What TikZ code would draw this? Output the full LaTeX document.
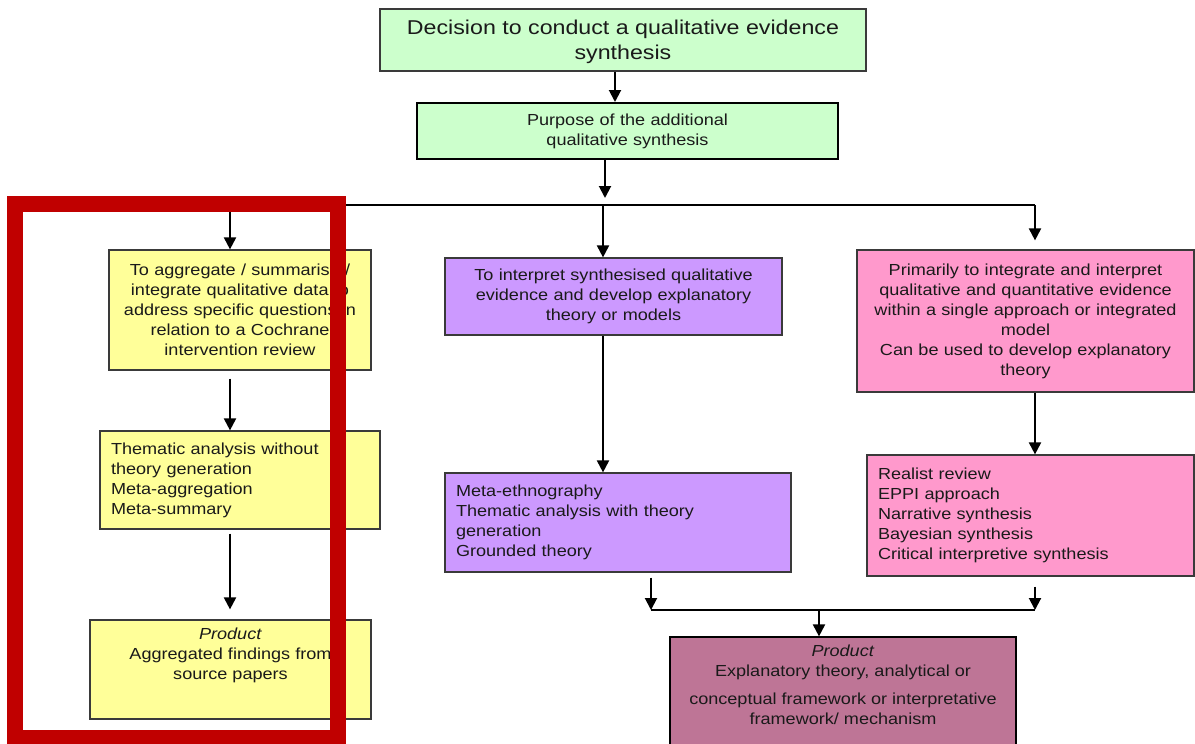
\documentclass[tikz,border=0pt]{standalone}
\usepackage{fontspec}
\setmainfont{Liberation Sans}[FakeStretch=1.13]
\newfontfamily\bigfont{Liberation Sans}[FakeStretch=1.16]
\usetikzlibrary{arrows.meta}
\definecolor{cgreen}{HTML}{CCFFCC}
\definecolor{cyellow}{HTML}{FFFF99}
\definecolor{cpurple}{HTML}{CC99FF}
\definecolor{cpink}{HTML}{FF99CC}
\definecolor{cmauve}{HTML}{BE7596}
\definecolor{cred}{HTML}{C00000}
\definecolor{cborder}{HTML}{3A3A3A}
\definecolor{ctext}{HTML}{1A1A1A}
\begin{document}
\begin{tikzpicture}[x=1pt,y=-1pt,
  box/.style={draw=cborder, line width=1.2pt, inner xsep=11pt, inner ysep=0pt,
    align=center, text=ctext, font=\fontsize{16}{20}\selectfont},
  lbox/.style={box, align=left},
  txt/.style={inner sep=0pt, align=center, text=ctext, font=\fontsize{16}{20}\selectfont},
  arr/.style={line width=2pt, -{Triangle[width=12pt,length=12pt]}},
  bus/.style={line width=2pt},
  redframe/.style={draw=cred, line width=16pt}
]
\useasboundingbox (0,0) rectangle (1195,744);
% boxes
\node[box, fill=cgreen, text width=464pt, minimum height=62pt] (dec) at (623,40) {};
\node[txt, font=\bigfont\fontsize{20}{25}\selectfont] (dect) at ([yshift=-1.5pt]dec.center)
  {Decision to conduct a qualitative evidence\\synthesis};
\node[box, fill=cgreen, draw=black, line width=2pt, text width=399pt, minimum height=56pt] (pur) at (627.5,131)
  {Purpose of the additional\\qualitative synthesis};
\node[box, fill=cyellow, text width=240pt, minimum height=120pt] (a1) at (240,310)
  {To aggregate / summarise /\\integrate qualitative data to\\address specific questions in\\relation to a Cochrane\\intervention review};
\node[lbox, fill=cyellow, text width=258pt, minimum height=98pt] (a2) at (240,480)
  {Thematic analysis without\\theory generation\\Meta-aggregation\\Meta-summary};
\node[box, fill=cyellow, text width=259pt, minimum height=99pt] (a3) at (230.5,669.5) {};
\node[txt, anchor=north] (a3t) at ([yshift=-8.5pt]a3.north)
  {\textit{Product}\\Aggregated findings from\\source papers};
\node[box, fill=cpurple, text width=315pt, minimum height=77pt] (b1) at (613.5,296.5)
  {To interpret synthesised qualitative\\evidence and develop explanatory\\theory or models};
\node[lbox, fill=cpurple, text width=324pt, minimum height=99pt] (b2) at (618,522.5)
  {Meta-ethnography\\Thematic analysis with theory\\generation\\Grounded theory};
\node[box, fill=cpink, text width=315pt, minimum height=142pt] (c1) at (1025.5,321)
  {Primarily to integrate and interpret\\qualitative and quantitative evidence\\within a single approach or integrated\\model\\Can be used to develop explanatory\\theory};
\node[lbox, fill=cpink, text width=305pt, minimum height=121pt] (c2) at (1030.5,515.5)
  {Realist review\\EPPI approach\\Narrative synthesis\\Bayesian synthesis\\Critical interpretive synthesis};
\node[box, fill=cmauve, draw=black, text width=324pt, minimum height=113pt] (d) at (843,693.5) {};
\node[txt, anchor=north] (dt) at ([yshift=-8.5pt]d.north)
  {\textit{Product}\\Explanatory theory, analytical or\\[8pt]conceptual framework or interpretative\\framework/ mechanism};
% helper coordinates
\coordinate (xtop) at (615,0);
\coordinate (xpur) at (605,0);
\coordinate (xa) at (230,0);
\coordinate (xb) at (603,0);
\coordinate (xc) at (1035,0);
\coordinate (xbl) at (651,0);
\coordinate (xd) at (819,0);
\coordinate (busTL) at (230,205);
\coordinate (busTR) at (1035,205);
\coordinate (busBL) at (651,610);
\coordinate (busBR) at (1035,610);
\coordinate (jtop) at (605,198);
\coordinate (jbot) at (819,610);
% connectors
\draw[arr] (dec.south -| xtop) -- (pur.north -| xtop);
\draw[arr] (pur.south -| xpur) -- (jtop);
\draw[bus] (busTL) -- (busTR);
\draw[arr] (busTL) -- (a1.north -| xa);
\draw[arr] (busTL -| xb) -- (b1.north -| xb);
\draw[arr, shorten >=9pt] (busTR) -- (c1.north -| xc);
\draw[arr, shorten <=8pt] (a1.south -| xa) -- (a2.north -| xa);
\draw[arr, shorten <=4pt, shorten >=10pt] (a2.south -| xa) -- (a3.north -| xa);
\draw[arr] (b1.south -| xb) -- (b2.north -| xb);
\draw[arr] (c1.south -| xc) -- (c2.north -| xc);
\draw[arr, shorten <=5pt] (b2.south -| xbl) -- (busBL);
\draw[arr, shorten <=10pt] (c2.south -| xc) -- (busBR);
\draw[bus] (busBL) -- (busBR);
\draw[arr] (jbot) -- (d.north -| xd);
% red frame overlay
\draw[redframe] (15,204) rectangle (338,738);
\end{tikzpicture}
\end{document}
